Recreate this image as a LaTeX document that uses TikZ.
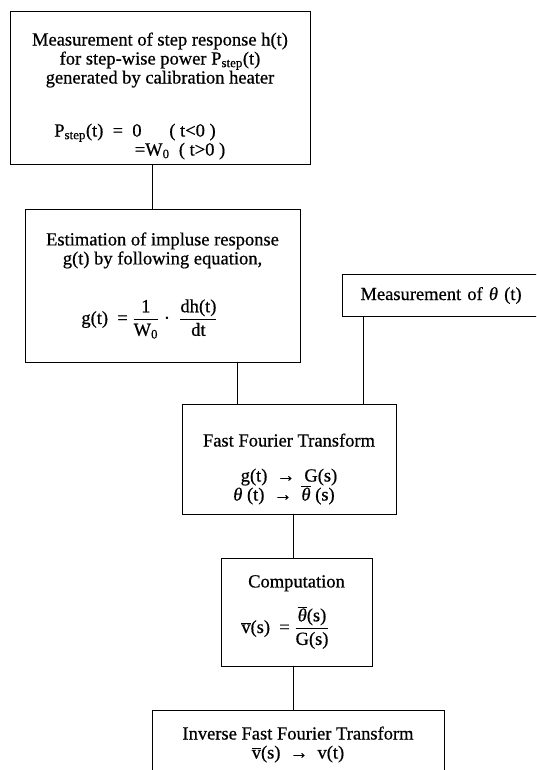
\documentclass[tikz,border=0pt]{standalone}
\usepackage{fontspec}
\setmainfont{Liberation Serif}[FakeBold=0.6]
\usepackage{tikz}
\usetikzlibrary{positioning}

\tikzset{
  flowbox/.style={rectangle, draw, line width=1pt, align=center, inner sep=3pt,
    font=\fontsize{18.5}{19}\selectfont},
  link/.style={line width=1pt}
}
\newcommand{\thet}{{\itshape θ}}
\newcommand{\barthet}{$\overline{\mbox{\itshape θ}}$}
\newcommand{\barv}{$\overline{\mbox{v}}$}
\newcommand{\fracbox}[2]{${\displaystyle\frac{\mbox{#1}}{\mbox{#2}}}$}

\begin{document}
\begin{tikzpicture}[x=1pt, y=-1pt]
  \useasboundingbox (0,0) rectangle (536,770);
  \clip (0,0) rectangle (536,770);

  \node (step) at (160,88.5) [flowbox, minimum width=300pt, minimum height=153pt] {%
    \rule{0pt}{28pt}Measurement of step response h(t)\\
    for step-wise power P\textsubscript{step}(t)\\
    generated by calibration heater\\[34pt]
    P\textsubscript{step}(t) \ = \ 0 \quad\ ( t<0 )\kern50pt\\
    \kern40pt=W\textsubscript{0} \ ( t>0 )};

  \node (impulse) at (162.5,285.5) [flowbox, minimum width=275pt, minimum height=153pt] {%
    \rule{0pt}{6pt}Estimation of impluse response\\
    g(t) by following equation,\\[30pt]
    g(t) \ = \fracbox{1}{W\textsubscript{0}} · \ \fracbox{dh(t)}{dt}\kern26pt};

  \node (meas) at (342,274) [flowbox, anchor=north west, minimum width=240pt,
    minimum height=42pt, text width=204pt, inner xsep=18pt, align=left]
    {Measurement of \thet\ (t)};

  \node (fft) at (289,459) [flowbox, minimum width=214pt, minimum height=110pt] {%
    \rule{0pt}{33pt}Fast Fourier Transform\\[16pt]
    g(t) \ → \ G(s)\\
    \thet\ (t) \ → \ \barthet\ (s)\kern10pt};

  \node (comp) at (296.5,612) [flowbox, minimum width=151pt, minimum height=108pt] {%
    Computation\\[14pt]
    \barv(s) \ = \fracbox{\barthet(s)}{G(s)}\kern22pt};

  \node (ifft) at (298,710) [flowbox, anchor=north, minimum width=292pt, inner ysep=16pt] {%
    Inverse Fast Fourier Transform\\
    \barv(s) \ → \ v(t)};

  % connecting lines
  \draw [link] ([xshift=-8pt]step.south) -- ([xshift=-8pt]step.south |- impulse.north);
  \draw [link] ([xshift=-52pt]fft.north) -- ([xshift=-52pt]fft.north |- impulse.south);
  \draw [link] ([xshift=74pt]fft.north) -- ([xshift=74pt]fft.north |- meas.south);
  \draw [link] ([xshift=4pt]fft.south) -- ([xshift=4pt]fft.south |- comp.north);
  \draw [link] ([xshift=-3.5pt]comp.south) -- ([xshift=-3.5pt]comp.south |- ifft.north);
\end{tikzpicture}
\end{document}
